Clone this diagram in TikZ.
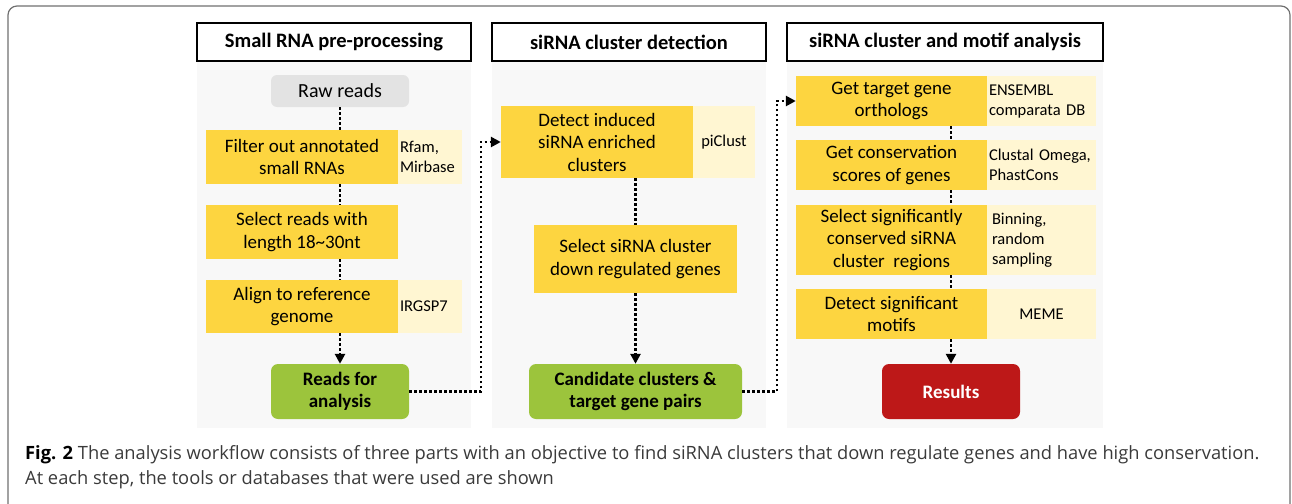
\documentclass[tikz,border=0pt]{standalone}
\usepackage{fontspec}
\setmainfont{Carlito}
\newfontfamily\capfont{Open Sans}
\usetikzlibrary{arrows.meta}
\definecolor{ybox}{HTML}{FDD540}
\definecolor{tbox}{HTML}{FFF6D2}
\definecolor{gbox}{HTML}{9CC43C}
\definecolor{rbox}{HTML}{BD1818}
\definecolor{rawc}{HTML}{E3E3E3}
\definecolor{panelc}{HTML}{F8F8F8}
\definecolor{framec}{HTML}{707070}
\definecolor{capc}{HTML}{3A3A3A}
\tikzset{
  hdr/.style={draw=black, line width=1.3pt, fill=white, minimum height=38pt, font=\fontsize{20.5}{24}\selectfont\bfseries, inner sep=0pt},
  stepbox/.style={fill=ybox, minimum width=192pt, inner sep=0pt, align=center, font=\fontsize{19}{22.5}\selectfont},
  toolbox/.style={fill=tbox, inner sep=0pt, font=\fontsize{16.5}{20}\selectfont},
  endbox/.style={rounded corners=7pt, minimum width=138pt, minimum height=55pt, inner sep=0pt, align=center, font=\fontsize{19}{22.5}\selectfont\bfseries},
  dotline/.style={line width=2.6pt, dash pattern=on 2.6pt off 2.4pt, black},
  arr/.style={-{Triangle[length=10pt,width=10pt]}}
}
\begin{document}
\begin{tikzpicture}[x=1pt,y=-1pt]
\useasboundingbox (0,0) rectangle (1292,503);
% outer frame
\draw[framec, line width=1.2pt, rounded corners=9pt] (8,504) -- (8,6) -- (1290,6) -- (1290,504);
% panel backgrounds
\fill[panelc] (197,61) rectangle (471,428);
\fill[panelc] (492,61) rectangle (766,428);
\fill[panelc] (787,61) rectangle (1103,428);
% headers
\node[hdr, minimum width=274pt] (h1) at (334,42) {Small RNA pre-processing};
\node[hdr, minimum width=274pt] (h2) at (629,42) {siRNA cluster detection};
\node[hdr, minimum width=316pt] (h3) at (945,42) {siRNA cluster and motif analysis};
% panel 1
\node[fill=rawc, rounded corners=6pt, minimum width=138pt, minimum height=32pt, inner sep=0pt, font=\fontsize{20}{24}\selectfont] (raw) at (340,91) {Raw reads};
\node[stepbox, minimum height=54pt] (f1) at (302,157) {Filter out annotated\\small RNAs};
\node[toolbox, minimum width=64pt, minimum height=54pt, text width=60pt, align=left] (t1) at (430,157) {Rfam,\\Mirbase};
\node[stepbox, minimum height=54pt] (s1) at (302,232) {Select reads with\\length 18\textasciitilde30nt};
\node[stepbox, minimum height=53pt] (a1) at (302,306.5) {Align to reference\\genome};
\node[toolbox, minimum width=64pt, minimum height=53pt, text width=60pt, align=left] (t3) at (430,306.5) {IRGSP7};
\node[endbox, fill=gbox] (reads) at (340,391.5) {Reads for\\analysis};
% panel 2
\node[stepbox, minimum height=72pt] (d2) at (597,142) {Detect induced\\siRNA enriched\\clusters};
\node[toolbox, minimum width=62pt, minimum height=72pt, align=center] (t2) at (724,142) {piClust};
\node[stepbox, minimum width=203pt, minimum height=68pt] (sel2) at (635.5,259) {Select siRNA cluster\\down regulated genes};
\node[endbox, fill=gbox, minimum width=213pt] (cand) at (635.5,391.5) {Candidate clusters \&\\target gene pairs};
% panel 3
\node[stepbox, minimum width=191pt, minimum height=50pt] (g1) at (891.5,101) {Get target gene\\orthologs};
\node[toolbox, minimum width=109pt, minimum height=50pt, text width=105pt, align=left] (u1) at (1041.5,101) {ENSEMBL\\comparata DB};
\node[stepbox, minimum width=191pt, minimum height=50pt] (g2) at (891.5,165) {Get conservation\\scores of genes};
\node[toolbox, minimum width=109pt, minimum height=50pt, text width=105pt, align=left] (u2) at (1041.5,165) {Clustal Omega,\\PhastCons};
\node[stepbox, minimum width=191pt, minimum height=70pt] (g3) at (891.5,240) {Select significantly\\conserved siRNA\\cluster~ regions};
\node[toolbox, minimum width=109pt, minimum height=70pt, text width=99pt, align=left, font=\fontsize{16.5}{20}\selectfont] (u3) at (1041.5,240) {Binning,\\random\\sampling};
\node[stepbox, minimum width=191pt, minimum height=50pt] (g4) at (891.5,314) {Detect significant\\motifs};
\node[toolbox, minimum width=109pt, minimum height=50pt, align=center] (u4) at (1041.5,314) {MEME};
\node[endbox, fill=rbox, text=white] (res) at (951,391.5) {Results};
% connectors panel 1
\draw[dotline] (raw.south) -- (raw.south |- f1.north);
\draw[dotline] (raw.south |- f1.south) -- (raw.south |- s1.north);
\draw[dotline] (raw.south |- s1.south) -- (raw.south |- a1.north);
\draw[dotline, arr] (raw.south |- a1.south) -- (reads.north);
% connectors panel 2
\draw[dotline] (cand.north |- d2.south) -- (sel2.north -| cand.north);
\draw[dotline, arr] (cand.north |- sel2.south) -- (cand.north);
% connectors panel 3
\draw[dotline] (res.north |- g1.south) -- (res.north |- g2.north);
\draw[dotline] (res.north |- g2.south) -- (res.north |- g3.north);
\draw[dotline] (res.north |- g3.south) -- (res.north |- g4.north);
\draw[dotline, arr] (res.north |- g4.south) -- (res.north);
% cross-panel connectors
\coordinate (c1) at (481,0);
\coordinate (c2) at (777,0);
\draw[dotline, arr] (reads.east) -- (reads.east -| c1) |- (d2.west);
\draw[dotline, arr] (cand.east) -- (cand.east -| c2) |- (g1.west);
% caption
\node[anchor=west, inner sep=0pt, text=capc, font=\capfont\fontsize{18.3}{21}\selectfont] (cap1) at (25,455) {{\color{black}\bfseries Fig. 2} The analysis workflow consists of three parts with an objective to find siRNA clusters that down regulate genes and have high conservation.};
\node[anchor=west, inner sep=0pt, text=capc, font=\capfont\fontsize{18.3}{21}\selectfont] (cap2) at (25,480) {At each step, the tools or databases that were used are shown};
\end{tikzpicture}
\end{document}
